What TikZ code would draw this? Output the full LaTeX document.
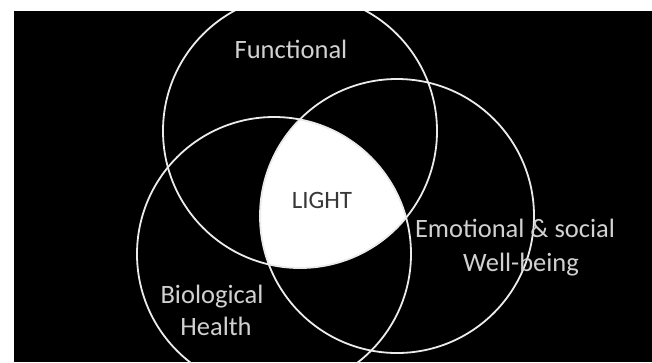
\documentclass[tikz,border=0pt]{standalone}
\usepackage{fontspec}
\setmainfont{Carlito}
\begin{document}
\begin{tikzpicture}[x=1pt,y=-1pt,
  ring/.style={draw=white!92!black, line width=1.8pt},
  lbl/.style={text=white!82!black, font=\fontsize{26.5}{30}\selectfont, anchor=base, inner sep=0pt},
  centerlbl/.style={text=black!78, font=\fontsize{25}{30}\selectfont, anchor=base, inner sep=0pt}]
\useasboundingbox (0,0) rectangle (652,362);
\clip (0,0) rectangle (652,362);
\fill[white] (0,0) rectangle (652,362);
\fill[black] (14,11) rectangle (652,362);
\begin{scope}
  \clip (14,11) rectangle (652,362);
  % LIGHT region = intersection of the three circles
  \begin{scope}
    \clip (300,131) circle (137);
    \clip (274,254) circle (137);
    \fill[white] (397,216) circle (137);
  \end{scope}
  \draw[ring] (300,131) circle (137);
  \draw[ring] (274,254) circle (137);
  \draw[ring] (397,216) circle (137);
\end{scope}
\node[lbl] (func) at (291,58) {Functional};
\node[centerlbl] (light) at (322,208) {LIGHT};
\node[lbl] (emo1) at (515,237) {Emotional \& social};
\node[lbl] (emo2) at (521,271) {Well-being};
\node[lbl] (bio1) at (212,303) {Biological};
\node[lbl] (bio2) at (216,335) {Health};
\end{tikzpicture}
\end{document}
